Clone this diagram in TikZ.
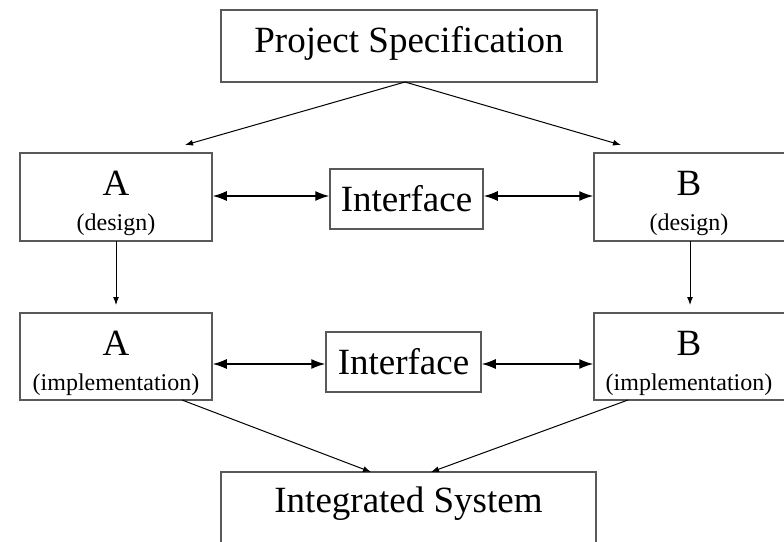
\documentclass[tikz,border=0pt]{standalone}
\usepackage{fontspec}
\setmainfont{Liberation Serif}
\usetikzlibrary{arrows.meta}
\begin{document}
\begin{tikzpicture}[x=1pt,y=-1pt,
  box/.style={draw=black!65,line width=1.5pt,inner sep=0pt,minimum width=#1},
  big/.style={font=\fontsize{37}{42}\selectfont},
  small/.style={font=\fontsize{24}{28}\selectfont},
  conn/.style={line width=1pt,-{Latex[length=8pt,width=6pt]}},
  dbl/.style={line width=1.3pt,{Latex[length=14pt,width=10pt]}-{Latex[length=14pt,width=10pt]}}]
\useasboundingbox (0,0) rectangle (784,541);
% boxes
\node[box=376pt,minimum height=72pt] (ps) at (409,46) {};
\node[box=192pt,minimum height=88pt] (ad) at (116,197) {};
\node[box=153pt,minimum height=60pt] (if1) at (406.5,199) {};
\node[box=192pt,minimum height=88pt] (bd) at (690,197) {};
\node[box=192pt,minimum height=87pt] (ai) at (116,356.5) {};
\node[box=155pt,minimum height=60pt] (if2) at (403.5,362) {};
\node[box=192pt,minimum height=87pt] (bi) at (690,356.5) {};
\node[box=375pt,minimum height=72pt] (is) at (408.5,508) {};
% texts
\node[big,anchor=base] (tps) at (409,52) {Project Specification};
\node[big,anchor=base] (tad) at (116,195) {A};
\node[small,anchor=base] (sad) at (116,230) {(design)};
\node[big,anchor=base] (tif1) at (406.5,211) {Interface};
\node[big,anchor=base] (tbd) at (689,195) {B};
\node[small,anchor=base] (sbd) at (689,230) {(design)};
\node[big,anchor=base] (tai) at (116,355) {A};
\node[small,anchor=base] (sai) at (116,390) {(implementation)};
\node[big,anchor=base] (tif2) at (403.5,374) {Interface};
\node[big,anchor=base] (tbi) at (689,355) {B};
\node[small,anchor=base] (sbi) at (689,390) {(implementation)};
\node[big,anchor=base] (tis) at (408.5,512) {Integrated System};
% connector end points
\coordinate (psfoot) at (405,82);
\coordinate (tipa) at (185,145);
\coordinate (tipb) at (621,145);
\coordinate (aifoot) at (182,400);
\coordinate (bifoot) at (628,400);
\coordinate (tisa) at (371,472);
\coordinate (tisb) at (431,472);
\coordinate (adfoot) at (116,241);
\coordinate (bdfoot) at (690,241);
\coordinate (aitip) at (116,305);
\coordinate (bitip) at (690,305);
% connectors
\draw[conn] (psfoot) -- (tipa);
\draw[conn] (psfoot) -- (tipb);
\draw[conn] (adfoot) -- (aitip);
\draw[conn] (bdfoot) -- (bitip);
\draw[conn] (aifoot) -- (tisa);
\draw[conn] (bifoot) -- (tisb);
\draw[dbl] (ad.east |- 0,196) -- (if1.west |- 0,196);
\draw[dbl] (if1.east |- 0,196) -- (bd.west |- 0,196);
\draw[dbl] (ai.east |- 0,364) -- (if2.west |- 0,364);
\draw[dbl] (if2.east |- 0,364) -- (bi.west |- 0,364);
\end{tikzpicture}
\end{document}
